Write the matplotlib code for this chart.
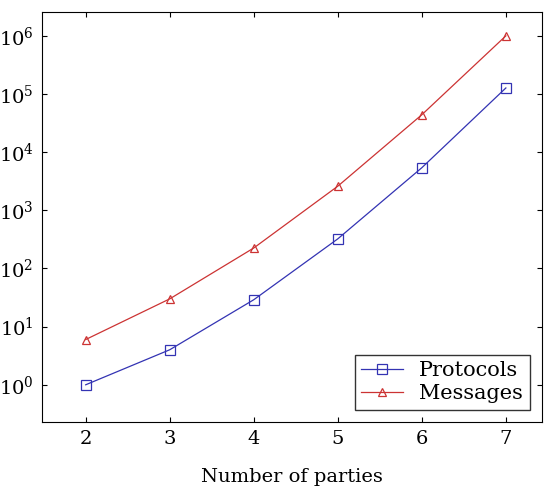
import matplotlib
matplotlib.use("Agg")
import matplotlib.pyplot as plt

parties = [2, 3, 4, 5, 6, 7]
protocols = [1, 4, 29, 323, 5400, 127000]
messages = [6, 30, 225, 2600, 44000, 1000000]

plt.rcParams['font.family'] = ['DejaVu Serif']
plt.rcParams['mathtext.fontset'] = 'dejavuserif'
fig = plt.figure(figsize=(5.5, 4.93), dpi=100)
ax = fig.add_axes([42/550, 71/493, 500/550, 410/493])
ax.plot(parties, protocols, color='#3333b3', marker='s', markersize=7, mfc='none', mew=0.9, lw=0.9, label='Protocols')
ax.plot(parties, messages, color='#cc3333', marker='^', markersize=6, mfc='none', mew=0.9, lw=0.9, label='Messages')
ax.set_yscale('log')
ax.set_xlim(1.48, 7.43)
ax.set_ylim(10**-0.64, 10**6.41)
ax.set_xticks(parties)
ax.set_yticks([10**i for i in range(7)])
ax.minorticks_off()
ax.tick_params(direction='in', labelsize=14, top=True, right=True, pad=6)
ax.set_xlabel('Number of parties', fontsize=14, labelpad=14)
ax.legend(loc='lower right', fontsize=15, fancybox=False, edgecolor='black', borderaxespad=0.6, handlelength=2, labelspacing=0.2, borderpad=0.3)
fig.savefig('out.png', dpi=100)
